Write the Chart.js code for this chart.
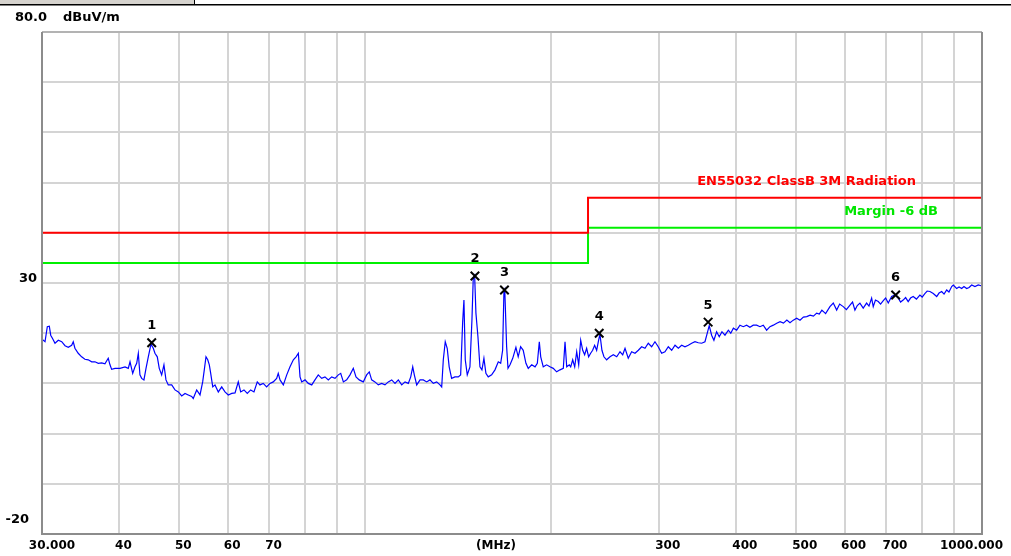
<!DOCTYPE html>
<html>
<head>
<meta charset="utf-8">
<script src="https://cdn.jsdelivr.net/npm/chart.js@4.4.0/dist/chart.umd.min.js"></script>
<style>
  html, body { margin: 0; padding: 0; background: #fff; }
  #wrap { position: relative; width: 1011px; height: 556px; }
</style>
</head>
<body>
<div id="wrap"><canvas id="emi" width="1011" height="556"></canvas></div>
<script>
// scan trace (MHz / dBuV/m)
const traceFreq = [
  30.00, 30.34, 30.60, 30.83, 30.99, 31.22, 31.49, 31.88, 32.29, 32.69, 33.09, 33.51, 33.71, 33.92, 34.34, 34.78,
  35.21, 35.65, 36.11, 36.55, 37.01, 37.48, 37.94, 38.41, 38.66, 38.90, 39.39, 40.13, 40.89, 41.39, 41.66, 42.08,
  42.44, 42.71, 42.97, 43.23, 43.51, 43.88, 44.22, 44.60, 45.05, 45.44, 45.72, 46.12, 46.46, 46.88, 47.28, 47.64,
  48.05, 48.67, 49.27, 49.89, 50.52, 51.15, 51.77, 52.43, 52.74, 53.42, 54.09, 54.63, 54.96, 55.31, 55.67, 56.00,
  56.29, 56.72, 57.20, 57.91, 58.65, 59.37, 60.11, 60.88, 61.64, 62.39, 62.95, 63.73, 64.52, 65.34, 66.15, 66.97,
  67.64, 68.47, 69.35, 70.21, 71.08, 71.99, 72.42,
  72.90, 73.81, 74.75, 75.67, 76.62, 77.39, 78.06, 78.55, 79.05, 80.03, 81.02, 82.06, 83.05, 84.08, 85.16, 86.21,
  87.29, 88.40, 89.50, 90.61, 91.42, 92.34, 93.48, 94.65, 95.82, 96.79, 97.97, 99.44, 100.71, 101.70, 102.61, 103.88,
  105.18, 106.52, 107.84, 109.18, 110.58, 111.95, 113.34, 114.79, 116.21, 117.65, 118.71, 119.60, 120.31, 121.39, 122.91, 124.42,
  125.98, 127.54, 129.13, 130.78, 132.40, 133.25, 134.05, 135.03, 136.02, 137.02, 138.27, 140.00, 141.74, 143.01, 144.09, 144.78,
  145.49, 146.58, 148.05, 149.16, 149.89, 150.67, 151.40, 152.54, 153.68, 154.83, 155.98, 157.14, 158.51, 160.54, 162.55, 164.57,
  166.05, 167.25, 168.06, 168.60, 169.77, 170.64, 171.93, 173.67, 175.75, 177.26, 178.86, 180.61, 182.45, 184.03, 186.42, 188.75,
  190.36, 191.78, 192.79, 194.62, 197.10, 199.55, 202.02, 204.59, 207.17, 209.75, 211.09, 212.43, 214.50,
  215.60, 217.22, 218.85, 220.49, 222.14, 223.80, 225.48, 227.11, 228.82, 230.53, 232.26, 234.00, 235.75, 237.52, 239.28, 240.45,
  242.25, 244.06, 246.53, 249.64, 252.76, 255.99, 259.16, 261.77, 264.04, 267.24, 270.64, 274.05, 277.49, 280.94, 284.44, 287.97,
  291.61, 295.23, 298.88, 302.70, 306.45, 310.29, 314.24, 318.18, 322.17, 326.17, 330.22, 334.36, 338.59, 342.79, 347.07, 351.44,
  355.79, 358.84, 361.48, 364.71, 367.85, 371.59, 375.24, 379.06, 383.35, 388.20, 391.72, 395.57, 400.45, 405.38, 410.37, 415.6,
  420.7, 426.0, 431.4, 436.8, 442.2, 447.8, 453.4, 459.1, 465.0, 470.8, 476.8, 482.9, 488.6, 494.6, 500.9, 507.2,
  513.6, 520.1, 526.6, 533.2, 539.7, 545.0,
  550.3, 558.0, 567.1, 574.2, 581.5, 588.0, 596.0, 603.0, 611.1, 617.0, 622.5, 628.0, 634.2, 642.0, 650.2, 656.0,
  662.5, 666.5, 672.0, 679.1, 685.0, 692.0, 698.0, 704.9, 713.9, 722.7, 731.7, 738.0, 745.3, 752.0, 759.3, 766.0,
  773.6, 783.0, 793.2, 800.0, 808.0, 815.0, 823.5, 833.8, 844.5, 852.0, 860.4, 868.0, 876.6, 884.0, 893.1, 898.4,
  909.8, 918.0, 926.9, 935.0, 944.4, 953.0, 962.2, 974.1, 986.3, 1000
];
const traceLevel = [
  18.8, 18.3, 21.3, 21.4, 19.6, 18.9, 18.0, 18.6, 18.3, 17.5, 17.2, 17.6, 18.3, 17.0, 16.0, 15.3,
  14.8, 14.7, 14.3, 14.3, 14.0, 14.1, 13.9, 15.0, 13.7, 12.8, 13.0, 13.0, 13.3, 13.0, 14.3, 12.0,
  13.3, 14.0, 16.0, 11.7, 11.0, 10.7, 13.0, 15.3, 17.8, 17.0, 16.0, 15.3, 13.0, 11.7, 13.7, 10.7,
  9.7, 9.7, 8.7, 8.3, 7.5, 8.0, 7.7, 7.4, 7.0, 8.7, 7.7, 10.3, 12.7, 15.3, 14.7, 13.7,
  12.0, 9.3, 9.7, 8.3, 9.3, 8.3, 7.7, 8.0, 8.1, 10.3, 8.3, 8.7, 8.0, 8.7, 8.3, 10.3,
  9.7, 10.0, 9.3, 10.0, 10.3, 11.0, 12.0,
  10.7, 9.7, 11.7, 13.3, 14.7, 15.3, 16.0, 11.3, 10.3, 10.7, 10.0, 9.7, 10.7, 11.7, 11.0, 11.3,
  10.7, 11.3, 11.0, 11.7, 12.0, 10.3, 10.7, 11.7, 13.0, 11.3, 10.7, 10.3, 11.7, 12.3, 10.7, 10.3,
  9.7, 10.0, 9.7, 10.3, 10.7, 10.0, 10.7, 9.7, 10.3, 10.0, 11.3, 13.3, 11.7, 9.7, 10.7, 10.7,
  10.3, 10.7, 10.0, 10.3, 9.7, 9.3, 14.7, 18.3, 17.0, 13.3, 11.0, 11.3, 11.3, 11.7, 22.3, 26.6,
  14.7, 11.7, 13.3, 22.6, 30.9, 31.5, 24.0, 19.3, 13.3, 12.7, 15.0, 12.0, 11.3, 11.7, 12.7, 14.3,
  14.0, 16.6, 28.2, 28.7, 17.3, 13.0, 13.7, 15.0, 17.2, 15.3, 17.3, 16.6, 14.0, 13.0, 13.7, 13.3,
  14.0, 18.3, 15.3, 13.3, 13.7, 13.3, 13.0, 12.3, 12.7, 13.0, 18.3, 13.3, 13.7,
  13.3, 14.7, 13.3, 16.3, 13.7, 18.6, 16.6, 15.7, 17.0, 15.3, 16.0, 16.6, 17.6, 16.6, 18.6, 19.8,
  16.6, 15.3, 14.7, 15.3, 15.7, 15.3, 16.3, 15.7, 17.0, 15.0, 16.3, 16.0, 16.6, 17.3, 17.0, 18.0,
  17.3, 18.3, 17.3, 16.0, 16.3, 17.3, 16.6, 17.6, 17.0, 17.6, 17.3, 17.6, 18.0, 18.3, 18.1, 18.0,
  18.3, 20.0, 21.5, 19.6, 18.6, 20.3, 19.3, 20.3, 19.6, 20.6, 20.0, 21.0, 20.6, 21.6, 21.3, 21.6,
  21.2, 21.6, 21.6, 21.3, 21.6, 20.6, 21.3, 21.6, 22.0, 22.3, 22.0, 22.6, 22.1, 22.6, 23.0, 22.6,
  23.2, 23.3, 23.6, 23.4, 24.0, 23.8,
  24.6, 23.9, 25.3, 26.0, 24.6, 25.8, 25.3, 24.7, 25.6, 26.2, 24.6, 25.5, 26.0, 25.0, 26.0, 25.4,
  27.0, 25.3, 26.6, 26.3, 25.8, 26.5, 27.0, 26.0, 27.3, 27.6, 27.0, 26.2, 26.6, 27.1, 26.3, 27.0,
  27.3, 26.8, 27.6, 27.2, 27.9, 28.4, 28.3, 27.9, 27.3, 28.0, 28.3, 27.8, 28.6, 28.2, 29.3, 29.6,
  28.9, 29.2, 28.9, 29.3, 28.9, 29.1, 29.6, 29.3, 29.6, 29.4
];

// EN55032 class B 3m limit and the -6 dB margin line
const limitFreq = [30, 230, 230, 1000];
const limitLevel = [40, 40, 47, 47];
const marginLevel = [34, 34, 41, 41];

// peak markers
const markerNo = ['1', '2', '3', '4', '5', '6'];
const markerFreq = [45.17, 150.84, 168.4, 239.8, 360.0, 724.6];
const markerLevel = [18.1, 31.4, 28.6, 20.0, 22.2, 27.6];

// axis text
const xGridFreq = [30, 40, 50, 60, 70, 80, 90, 100, 200, 300, 400, 500, 600, 700, 800, 900, 1000];
const xLabelFreq = [30, 40, 50, 60, 70, 300, 400, 500, 600, 700, 1000];
const xLabelText = ['30.000', '40', '50', '60', '70', '300', '400', '500', '600', '700', '1000.000'];

const FONT = 'bold 12px "DejaVu Sans"';
const FONT_BIG = 'bold 13px "DejaVu Sans"';

const toXY = (xs, ys) => xs.map((x, i) => ({ x: x, y: ys[i] }));

// texts, frame and the little window strip at the top
const overlay = {
    id: 'overlay',
    afterDraw(chart) {
        const ctx = chart.ctx;
        const a = chart.chartArea;
        const xs = chart.scales.x;
        const ys = chart.scales.y;

        ctx.save();

        // top strip
        ctx.fillStyle = '#d6d3ce';
        ctx.fillRect(0, 0, 194, 4);
        ctx.fillStyle = '#000';
        ctx.fillRect(0, 4, 1011, 1.5);
        ctx.fillRect(194, 0, 1, 4);

        // plot frame
        ctx.strokeStyle = '#a8a8a8';
        ctx.lineWidth = 1.5;
        ctx.beginPath();
        ctx.moveTo(a.left, a.top);
        ctx.lineTo(a.right, a.top);
        ctx.stroke();
        ctx.strokeStyle = '#8c8c8c';
        ctx.lineWidth = 2;
        ctx.beginPath();
        ctx.moveTo(a.left, a.top);
        ctx.lineTo(a.left, a.bottom);
        ctx.lineTo(a.right, a.bottom);
        ctx.lineTo(a.right, a.top);
        ctx.stroke();

        ctx.font = FONT_BIG;
        ctx.textBaseline = 'middle';
        ctx.fillStyle = '#000';

        // y labels
        ctx.textAlign = 'left';
        ctx.fillText('80.0', 15, ys.getPixelForValue(80) - 14);
        ctx.fillText('dBuV/m', 63, ys.getPixelForValue(80) - 14);
        ctx.textAlign = 'right';
        ctx.fillText('30', 37, ys.getPixelForValue(30) - 4);
        ctx.fillText('-20', 29, ys.getPixelForValue(-20) - 14);

        // x labels
        ctx.font = FONT;
        const ly = a.bottom + 12;
        xLabelFreq.forEach((f, i) => {
            const px = xs.getPixelForValue(f);
            if (i === 0) {
                ctx.textAlign = 'center';
                ctx.fillText(xLabelText[i], px + 10, ly);
            } else if (i === xLabelFreq.length - 1) {
                ctx.textAlign = 'right';
                ctx.fillText(xLabelText[i], px + 21, ly);
            } else {
                ctx.textAlign = 'left';
                ctx.fillText(xLabelText[i], px - 4, ly);
            }
        });
        ctx.textAlign = 'center';
        ctx.fillText('(MHz)', a.left + 454, ly);

        // marker numbers
        ctx.font = FONT_BIG;
        markerNo.forEach((n, i) => {
            ctx.fillText(n, xs.getPixelForValue(markerFreq[i]), ys.getPixelForValue(markerLevel[i]) - 17);
        });

        // limit line captions
        ctx.textAlign = 'right';
        ctx.fillStyle = '#ff0000';
        ctx.fillText('EN55032 ClassB 3M Radiation', a.right - 66, ys.getPixelForValue(limitLevel[3]) - 16);
        ctx.fillStyle = '#00e600';
        ctx.fillText('Margin -6 dB', a.right - 44, ys.getPixelForValue(marginLevel[3]) - 16);

        ctx.restore();
    }
};

const ctx = document.getElementById('emi').getContext('2d');
const emiChart = new Chart(ctx, {
    type: 'line',
    data: {
        datasets: [
            {
                label: 'markers',
                data: toXY(markerFreq, markerLevel),
                showLine: false,
                pointStyle: 'crossRot',
                pointRadius: 6,
                pointBorderWidth: 2,
                pointBorderColor: '#000',
                borderColor: '#000',
                order: 0
            },
            {
                label: 'trace',
                data: toXY(traceFreq, traceLevel),
                borderColor: '#0000ff',
                borderWidth: 1.2,
                pointRadius: 0,
                tension: 0,
                order: 1
            },
            {
                label: 'limit',
                data: toXY(limitFreq, limitLevel),
                borderColor: '#ff0000',
                borderWidth: 2,
                pointRadius: 0,
                order: 2
            },
            {
                label: 'margin',
                data: toXY(limitFreq, marginLevel),
                borderColor: '#00f000',
                borderWidth: 2,
                pointRadius: 0,
                order: 3
            }
        ]
    },
    options: {
        responsive: false,
        animation: false,
        layout: { padding: { left: 42, top: 32, right: 29, bottom: 22 } },
        plugins: {
            legend: { display: false },
            tooltip: { enabled: false }
        },
        scales: {
            x: {
                type: 'logarithmic',
                min: 30,
                max: 1000,
                afterBuildTicks: (scale) => {
                    scale.ticks = xGridFreq.map(v => ({ value: v }));
                },
                afterFit: (scale) => { scale.height = 0; },
                ticks: { display: false },
                grid: { color: '#d4d4d4', lineWidth: 2, drawTicks: false },
                border: { display: false }
            },
            y: {
                min: -20,
                max: 80,
                afterFit: (scale) => { scale.width = 0; },
                ticks: { display: false, stepSize: 10 },
                grid: { color: '#d4d4d4', lineWidth: 2, drawTicks: false },
                border: { display: false }
            }
        }
    },
    plugins: [overlay]
});
</script>
</body>
</html>
